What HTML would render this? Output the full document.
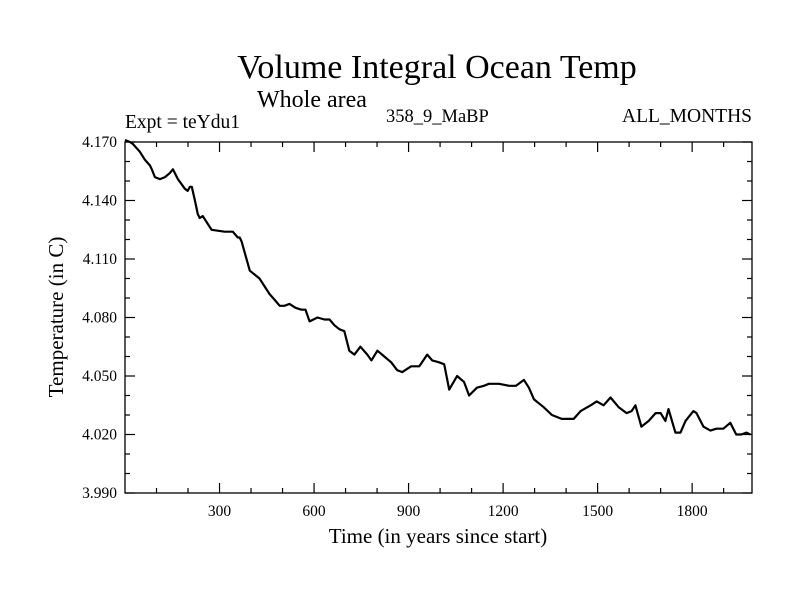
<!DOCTYPE html>
<html><head><meta charset="utf-8"><style>
body{margin:0;background:#fff;}
svg text{font-family:"Liberation Serif",serif;fill:#000;}
</style></head><body>
<svg id="chart" width="800" height="600" xmlns="http://www.w3.org/2000/svg">
<text x="437" y="78" font-size="34" text-anchor="middle">Volume Integral Ocean Temp</text>
<text x="257" y="107" font-size="24">Whole area</text>
<text x="125" y="128" font-size="19.5">Expt = teYdu1</text>
<text x="386" y="122" font-size="18.5">358_9_MaBP</text>
<text x="752" y="122" font-size="19.5" text-anchor="end">ALL_MONTHS</text>
<text x="438" y="543" font-size="21" text-anchor="middle">Time (in years since start)</text>
<text x="0" y="0" font-size="21" text-anchor="middle" transform="translate(63,317) rotate(-90)">Temperature (in C)</text>
<g id="axes"></g>
<rect x="125" y="142" width="627" height="351" fill="none" stroke="#000" stroke-width="1.3"/>
</svg>
<script>
const xTicks=[300,600,900,1200,1500,1800];
const yTicks=[3.990,4.020,4.050,4.080,4.110,4.140,4.170];
const years=[0,16,25,47,63,79,85,95,111,127,142,152,168,190,199,206,212,222,231,237,247,275,316,342,358,364,370,396,427,459,475,491,506,522,541,560,573,586,611,633,649,665,680,696,712,728,747,769,782,801,823,845,864,880,908,934,959,975,997,1013,1029,1054,1076,1092,1117,1139,1155,1187,1219,1241,1266,1282,1298,1329,1355,1386,1424,1446,1478,1497,1519,1541,1567,1592,1608,1620,1639,1662,1684,1700,1715,1725,1747,1763,1779,1804,1814,1836,1858,1877,1899,1921,1940,1956,1972,1985];
const temps=[4.171,4.170,4.169,4.165,4.161,4.158,4.156,4.152,4.151,4.152,4.154,4.156,4.151,4.146,4.145,4.147,4.147,4.140,4.133,4.131,4.132,4.125,4.124,4.124,4.121,4.121,4.119,4.104,4.100,4.092,4.089,4.086,4.086,4.087,4.085,4.084,4.084,4.078,4.080,4.079,4.079,4.076,4.074,4.073,4.063,4.061,4.065,4.061,4.058,4.063,4.060,4.057,4.053,4.052,4.055,4.055,4.061,4.058,4.057,4.056,4.043,4.050,4.047,4.040,4.044,4.045,4.046,4.046,4.045,4.045,4.048,4.044,4.038,4.034,4.030,4.028,4.028,4.032,4.035,4.037,4.035,4.039,4.034,4.031,4.032,4.035,4.024,4.027,4.031,4.031,4.027,4.033,4.021,4.021,4.027,4.032,4.031,4.024,4.022,4.023,4.023,4.026,4.020,4.020,4.021,4.020];
const X0=125,X1=752,Y0=142,Y1=493,XMIN=0,XMAX=1990,YMIN=3.990,YMAX=4.170;
function sx(v){return X0+(v-XMIN)/(XMAX-XMIN)*(X1-X0);}
function sy(v){return Y1-(v-YMIN)/(YMAX-YMIN)*(Y1-Y0);}
const NS="http://www.w3.org/2000/svg";
const g=document.getElementById('axes');
function line(x1,y1,x2,y2,name){const l=document.createElementNS(NS,'line');
l.setAttribute('x1',x1);l.setAttribute('y1',y1);l.setAttribute('x2',x2);l.setAttribute('y2',y2);
l.setAttribute('stroke','#000');l.setAttribute('stroke-width','1.2');


g.appendChild(l);}
for(let v=100;v<XMAX;v+=100){const x=sx(v);const L=(v%300===0)?10:5;
line(x,Y1,x,Y1-L,'x-tick');line(x,Y0,x,Y0+L,'x-tick-top');}
for(let i=0;i<=18;i++){const v=YMIN+i*0.01;const y=sy(v);const L=(i%3===0)?10:5;
line(X0,y,X0+L,y,'y-tick');line(X1,y,X1-L,y,'y-tick-right');}
xTicks.forEach(v=>{const t=document.createElementNS(NS,'text');
t.setAttribute('x',sx(v));t.setAttribute('y',Y1+23);t.setAttribute('font-size','15.5');t.setAttribute('text-anchor','middle');


t.textContent=v;g.appendChild(t);});
yTicks.forEach(v=>{const t=document.createElementNS(NS,'text');
t.setAttribute('x',X0-8);t.setAttribute('y',sy(v)+5);t.setAttribute('font-size','15.5');t.setAttribute('text-anchor','end');


t.textContent=v.toFixed(3);g.appendChild(t);});
const p=document.createElementNS(NS,'polyline');
p.setAttribute('points',years.map((yr,i)=>sx(yr).toFixed(1)+','+sy(temps[i]).toFixed(1)).join(' '));
p.setAttribute('fill','none');p.setAttribute('stroke','#000');p.setAttribute('stroke-width','2.2');p.setAttribute('stroke-linejoin','round');


g.appendChild(p);
</script>
</body></html>
